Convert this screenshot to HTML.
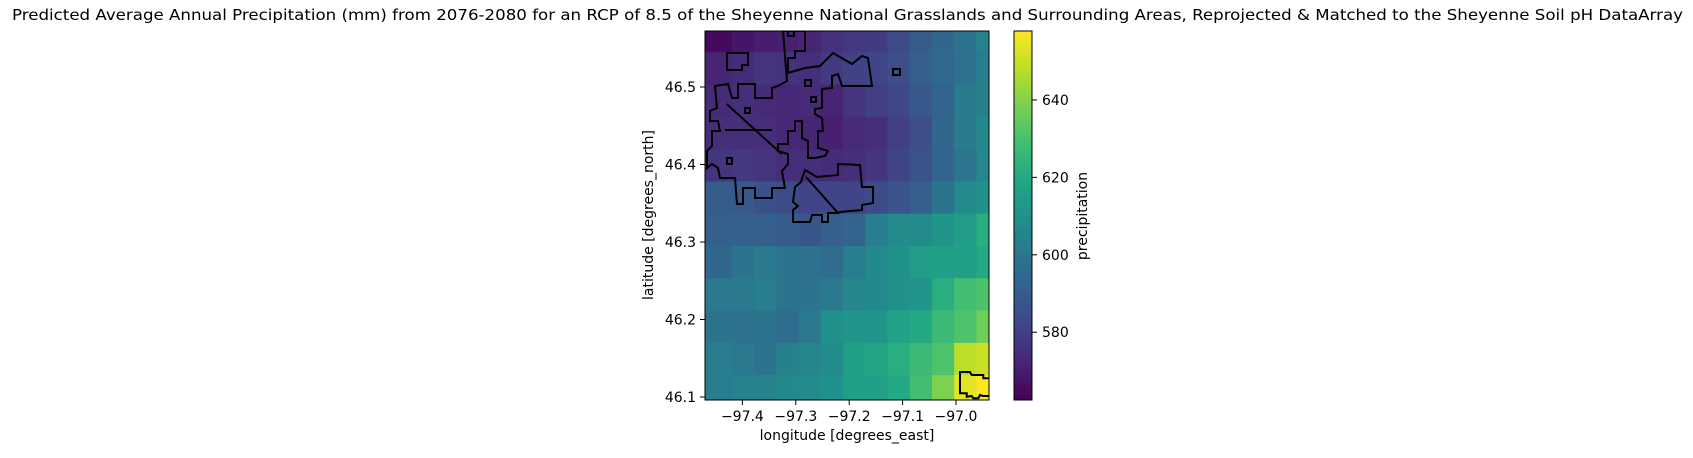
<!DOCTYPE html>
<html><head><meta charset="utf-8"><style>
html,body{margin:0;padding:0;background:#fff;}
svg text{font-family:"DejaVu Sans","Liberation Sans",sans-serif;fill:#000;}
</style></head><body>
<svg id="chart" width="1693" height="453" viewBox="0 0 1693 453" xmlns="http://www.w3.org/2000/svg">
<text x="12" y="20" font-size="15.5" textLength="1671" lengthAdjust="spacingAndGlyphs">Predicted Average Annual Precipitation (mm) from 2076-2080 for an RCP of 8.5 of the Sheyenne National Grasslands and Surrounding Areas, Reprojected &amp; Matched to the Sheyenne Soil pH DataArray</text>
<defs><clipPath id="plotclip"><rect x="705" y="31" width="284" height="369"/></clipPath>
<linearGradient id="cbgrad" x1="0" y1="1" x2="0" y2="0"></linearGradient></defs>
<g id="cells" clip-path="url(#plotclip)"></g>
<g id="outlines" clip-path="url(#plotclip)" fill="none" stroke="#000" stroke-width="2" stroke-linejoin="miter"></g>
<rect x="705" y="31" width="284" height="369" fill="none" stroke="#000" stroke-width="1"/>
<g id="xaxis"></g>
<g id="yaxis"></g>
<text x="847" y="440" font-size="14" text-anchor="middle">longitude [degrees_east]</text>
<text x="0" y="0" font-size="14" text-anchor="middle" transform="translate(653,215) rotate(-90)">latitude [degrees_north]</text>
<rect x="1014" y="31" width="18" height="369" fill="url(#cbgrad)" stroke="#000" stroke-width="1"/>
<g id="cbaxis"></g>
<text x="0" y="0" font-size="14" text-anchor="middle" transform="translate(1087,216) rotate(-90)">precipitation</text>
</svg>
<script>
const lonCenters = [-97.4408,-97.3991,-97.3575,-97.3158,-97.2741,-97.2325,-97.1908,-97.1491,-97.1075,-97.0658,-97.0241,-96.9825,-96.9408];
const latCenters = [46.5657,46.5240,46.4823,46.4407,46.3990,46.3573,46.3157,46.2740,46.2323,46.1907,46.1490,46.1073];
const precipRows = [
[565,568,570,571,572,576,578,579,584,590,594,599,605],
[572,574,577,576,575,579,581,582,585,591,595,598,603],
[574,575,574,573,574,572,577,580,583,589,593,602,604],
[575,575,575,573,572,571,574,575,580,585,594,602,607],
[577,578,577,575,575,574,575,577,582,587,593,600,606],
[590,589,586,584,582,582,582,584,587,591,599,608,610],
[591,591,591,590,588,591,593,603,608,608,612,615,622],
[594,599,601,599,598,596,603,607,610,615,616,616,620],
[601,601,603,599,599,601,606,607,610,612,622,629,631],
[599,598,599,596,601,610,612,612,617,620,627,631,637],
[603,601,599,604,606,608,616,618,622,627,631,648,650],
[603,605,605,607,608,610,616,616,620,629,639,654,658]
];
const xTicks = [-97.4,-97.3,-97.2,-97.1,-97.0];
const xTickLabels = ["\u221297.4","\u221297.3","\u221297.2","\u221297.1","\u221297.0"];
const yTicks = [46.1,46.2,46.3,46.4,46.5];
const yTickLabels = ["46.1","46.2","46.3","46.4","46.5"];
const cbTicks = [580,600,620,640];
const vmin = 562.5, vmax = 657.8;
const cellStep = 0.041667;

const NS='http://www.w3.org/2000/svg';
const xS = lon => 956 + (lon + 97.0) * 534;
const yS = lat => 397 - (lat - 46.1) * 775;
const cS = v => 400 - (v - vmin) / (vmax - vmin) * 369;
const vir = [[68,1,84],[72,36,117],[65,68,135],[53,95,141],[42,120,142],[33,145,140],[34,168,132],[68,191,112],[122,209,81],[189,223,38],[253,231,37]];
function cmap(v){let t=Math.max(0,Math.min(1,(v-vmin)/(vmax-vmin)))*10;let i=Math.min(9,Math.floor(t)),f=t-i;const a=vir[i],b=vir[i+1];return 'rgb('+a.map((c,k)=>Math.round(c+(b[k]-c)*f)).join(',')+')';}
function mk(tag,attrs){const e=document.createElementNS(NS,tag);for(const k in attrs)e.setAttribute(k,attrs[k]);return e;}

const cells=document.getElementById('cells');
precipRows.forEach((row,r)=>{row.forEach((v,c)=>{
  let x0=xS(lonCenters[c]-cellStep/2), x1=xS(lonCenters[c]+cellStep/2);
  if(c===0) x0=690;
  const y0=yS(latCenters[r]+cellStep/2), y1=yS(latCenters[r]-cellStep/2);
  const rc=mk('rect',{x:x0,y:y0,width:x1-x0+0.6,height:y1-y0+0.6,fill:cmap(v)});
  
  
  cells.appendChild(rc);
});});

const grad=document.getElementById('cbgrad');
for(let i=0;i<=20;i++){const v=vmin+(vmax-vmin)*i/20;grad.appendChild(mk('stop',{offset:(i/20),'stop-color':cmap(v)}));}

const outlinesData=[
"M783,31 L805,31 L805,51 L795,51 L795,58 L788,58 L788,73 L805,68 L820,66 L833,53 L852,64 L862,56 L868,58 L872,86 L842,86 L838,74 L832,76 L832,88 L822,89 L822,108 L815,109 L815,114 L822,118 L823,131 L818,131 L818,148 L828,151 L825,156 L815,158 L808,158 L808,141 L802,138 L802,121 L795,121 L795,131 L788,131 L788,144 L778,144 L778,151 L788,154 L788,164 L782,171 L785,188 L772,188 L772,198 L755,198 L755,188 L743,188 L743,204 L737,204 L735,178 L720,178 L718,168 L712,164 L707,168 L707,151 L712,146 L712,131 L720,131 L718,121 L710,121 L710,111 L717,108 L715,86 L728,84 L732,98 L738,98 L738,84 L755,84 L755,98 L772,98 L772,88 L778,86 L787,81 Z",
"M805,170 L817,177 L838,175 L838,164 L860,165 L862,187 L873,187 L873,203 L862,205 L862,210 L840,212 L838,213 L828,213 L828,222 L822,222 L822,215 L812,215 L810,222 L793,222 L793,210 L798,206 L793,202 L795,187 L801,182 Z",
"M806,177 L838,213",
"M726.7,104 L781.7,154",
"M725,130 L772,130",
"M727,53 L748,53 L748,65 L742,65 L742,70 L727,70 Z",
"M893,69 L900,69 L900,75 L893,75 Z",
"M745,108 L750,108 L750,113 L745,113 Z",
"M727,158 L732,158 L732,164 L727,164 Z",
"M805,80 L811,80 L811,86 L805,86 Z",
"M811,97 L816,97 L816,102 L811,102 Z",
"M788,31 L794,31 L794,36 L788,36 Z",
"M960,372 L970,372 L971.7,375 L983.3,375 L983.3,378.3 L990,378.3 L990,396 L983,396 L980,395 L978.3,398.3 L973.3,398.3 L971.7,396 L966.7,396.7 L966.7,393.3 L960,393.3 Z"
];
const og=document.getElementById('outlines');
outlinesData.forEach(d=>{const p=mk('path',{d:d});
  
  
  og.appendChild(p);});

const xa=document.getElementById('xaxis');
xTicks.forEach((t,i)=>{const x=xS(t);
  const l=mk('line',{x1:x,x2:x,y1:400,y2:405,stroke:'#000','stroke-width':1});
  
  
  xa.appendChild(l);
  const tx=mk('text',{x:x,y:421,'font-size':14,'text-anchor':'middle'});tx.textContent=xTickLabels[i];
  
  
  xa.appendChild(tx);});
const ya=document.getElementById('yaxis');
yTicks.forEach((t,i)=>{const y=yS(t);
  const l=mk('line',{x1:700,x2:705,y1:y,y2:y,stroke:'#000','stroke-width':1});
  
  
  ya.appendChild(l);
  const tx=mk('text',{x:696,y:y+5,'font-size':14,'text-anchor':'end'});tx.textContent=yTickLabels[i];
  
  
  ya.appendChild(tx);});
const ca=document.getElementById('cbaxis');
cbTicks.forEach(t=>{const y=cS(t);
  const l=mk('line',{x1:1032,x2:1037,y1:y,y2:y,stroke:'#000','stroke-width':1});
  
  
  ca.appendChild(l);
  const tx=mk('text',{x:1042,y:y+5,'font-size':14});tx.textContent=String(t);
  
  
  ca.appendChild(tx);});
</script>
</body></html>
